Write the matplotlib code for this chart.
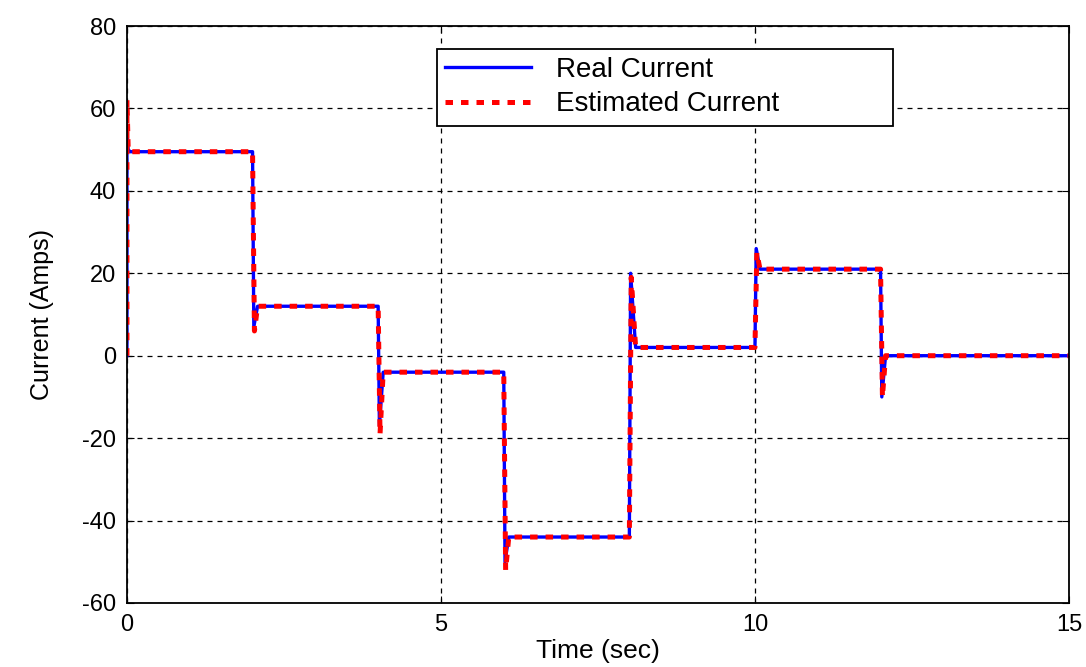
import numpy as np
import matplotlib.pyplot as plt

plt.rcParams['font.family'] = ['Liberation Sans', 'DejaVu Sans']
plt.rcParams['axes.unicode_minus'] = False

# data (time in sec, current in amps)
t_real = [0, 0.0, 0.02, 0.05, 2.0, 2.02, 2.08, 4.0, 4.02, 4.08,
          6.0, 6.02, 6.08, 8.0, 8.02, 8.1, 10.0, 10.02, 10.08,
          12.0, 12.02, 12.08, 15.0]
i_real = [0, 54, 50, 49.5, 49.5, 7, 12, 12, -17, -4,
          -4, -50, -44, -44, 20, 2, 2, 26, 21,
          21, -10, 0, 0]

t_est = [0, 0.0, 0.02, 0.05, 2.0, 2.03, 2.08, 4.0, 4.03, 4.08,
         6.0, 6.03, 6.08, 8.0, 8.03, 8.1, 10.0, 10.03, 10.08,
         12.0, 12.03, 12.08, 15.0]
i_est = [0, 62, 50, 49.5, 49.5, 6, 12, 12, -19, -4,
         -4, -52, -44, -44, 19, 2, 2, 25, 21,
         21, -10, 0, 0]

xticks = [0, 5, 10, 15]
yticks = [-60, -40, -20, 0, 20, 40, 60, 80]

fig = plt.figure(figsize=(10.86, 6.67), dpi=100)
ax = fig.add_axes([0.1169, 0.096, 0.8674, 0.865])

ax.plot(t_real, i_real, color='#0000ff', linewidth=2.4, label='Real Current')
ax.plot(t_est, i_est, color='#ff0000', linewidth=3.6,
        linestyle=(0, (1.5, 1.6)), label='Estimated Current')

ax.set_xlim(0, 15)
ax.set_ylim(-60, 80)
ax.set_xticks(xticks)
ax.set_yticks(yticks)
ax.grid(True, color='black', linestyle=(0, (4, 4)), linewidth=0.9)
ax.tick_params(direction='in', top=True, right=True, labelsize=17, length=5, pad=8)
for s in ax.spines.values():
    s.set_linewidth(1.3)

ax.set_xlabel('Time (sec)', fontsize=19, labelpad=2)
ax.set_ylabel('Current (Amps)', fontsize=18, labelpad=20)

# legend frame stretched to the reference box
leg = ax.legend(loc='upper left', bbox_to_anchor=(0.329, 0.8215, 0.484, 0.139),
                mode='expand', fontsize=20,
                fancybox=False, edgecolor='black', framealpha=1,
                handlelength=3.1, borderpad=0.3, labelspacing=0.3,
                handletextpad=0.9, borderaxespad=0)
leg.get_frame().set_linewidth(1.3)

fig.savefig('out.png', dpi=100)
